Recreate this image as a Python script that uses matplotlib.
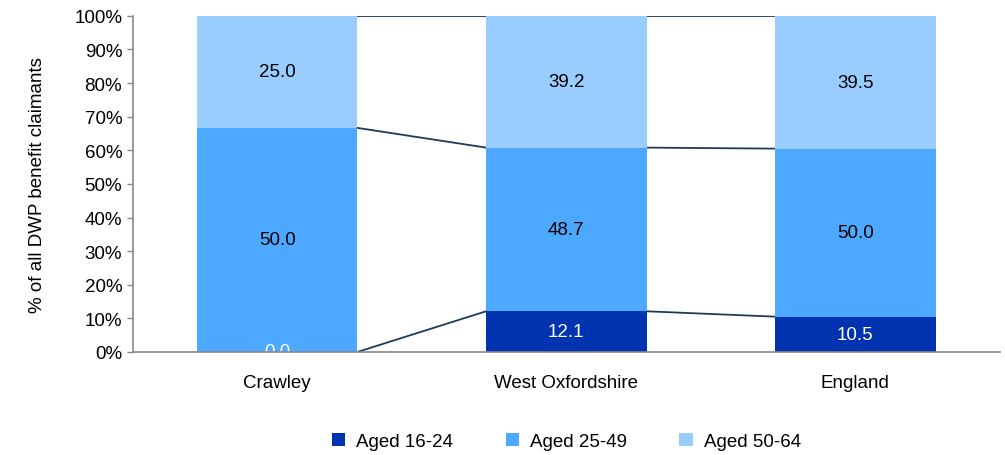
import numpy as np
import matplotlib.pyplot as plt

plt.rcParams['font.family'] = ['Liberation Sans', 'DejaVu Sans']

areas = ['Crawley', 'West Oxfordshire', 'England']
series = ['Aged 16-24', 'Aged 25-49', 'Aged 50-64']
aged_16_24 = [0.0, 12.1, 10.5]
aged_25_49 = [50.0, 48.7, 50.0]
aged_50_64 = [25.0, 39.2, 39.5]
colors = ['#0033B0', '#4DA8FF', '#99CCFF']
text_colors = ['white', 'black', 'black']

values = np.array([aged_16_24, aged_25_49, aged_50_64])
pct = values / values.sum(axis=0) * 100
cum = np.cumsum(pct, axis=0)

fs = 13.5
fig = plt.figure(figsize=(10.05, 4.56), dpi=100)
ax = fig.add_axes([0.132, 0.226, 0.863, 0.737])

x = np.arange(len(areas))
w = 0.555
bottom = np.zeros(len(areas))
for i in range(3):
    ax.bar(x, pct[i], w, bottom=bottom, color=colors[i], label=series[i], zorder=2)
    for j in range(len(areas)):
        ax.text(x[j], bottom[j] + pct[i][j] / 2, '%.1f' % values[i][j],
                ha='center', va='center', fontsize=fs, color=text_colors[i], zorder=3)
    bottom += pct[i]

# series lines between bars
for i in range(3):
    for j in range(len(areas) - 1):
        ax.plot([x[j] + w / 2, x[j + 1] - w / 2], [cum[i][j], cum[i][j + 1]],
                color='#1F3A5F', lw=1.3, zorder=1)

ax.set_xlim(-0.5, 2.5)
ax.set_ylim(0, 100)
ax.set_yticks(np.arange(0, 101, 10))
ax.set_yticklabels(['%d%%' % v for v in range(0, 101, 10)], fontsize=fs)
ax.set_xticks(x)
ax.set_xticklabels(areas, fontsize=fs)
ax.tick_params(axis='x', length=0, pad=16)
ax.tick_params(axis='y', length=4, color='#888888', width=1)
for s in ['top', 'right']:
    ax.spines[s].set_visible(False)
for s in ['left', 'bottom']:
    ax.spines[s].set_color('#888888')
    ax.spines[s].set_linewidth(1.2)
    ax.spines[s].set_zorder(4)
ax.set_ylabel('% of all DWP benefit claimants', fontsize=fs, labelpad=20)

ax.legend(loc='upper center', bbox_to_anchor=(0.5, -0.19), ncol=3, frameon=False,
          fontsize=fs, handlelength=0.7, handleheight=0.7, columnspacing=2.8,
          handletextpad=0.6)

fig.savefig('out.png')
